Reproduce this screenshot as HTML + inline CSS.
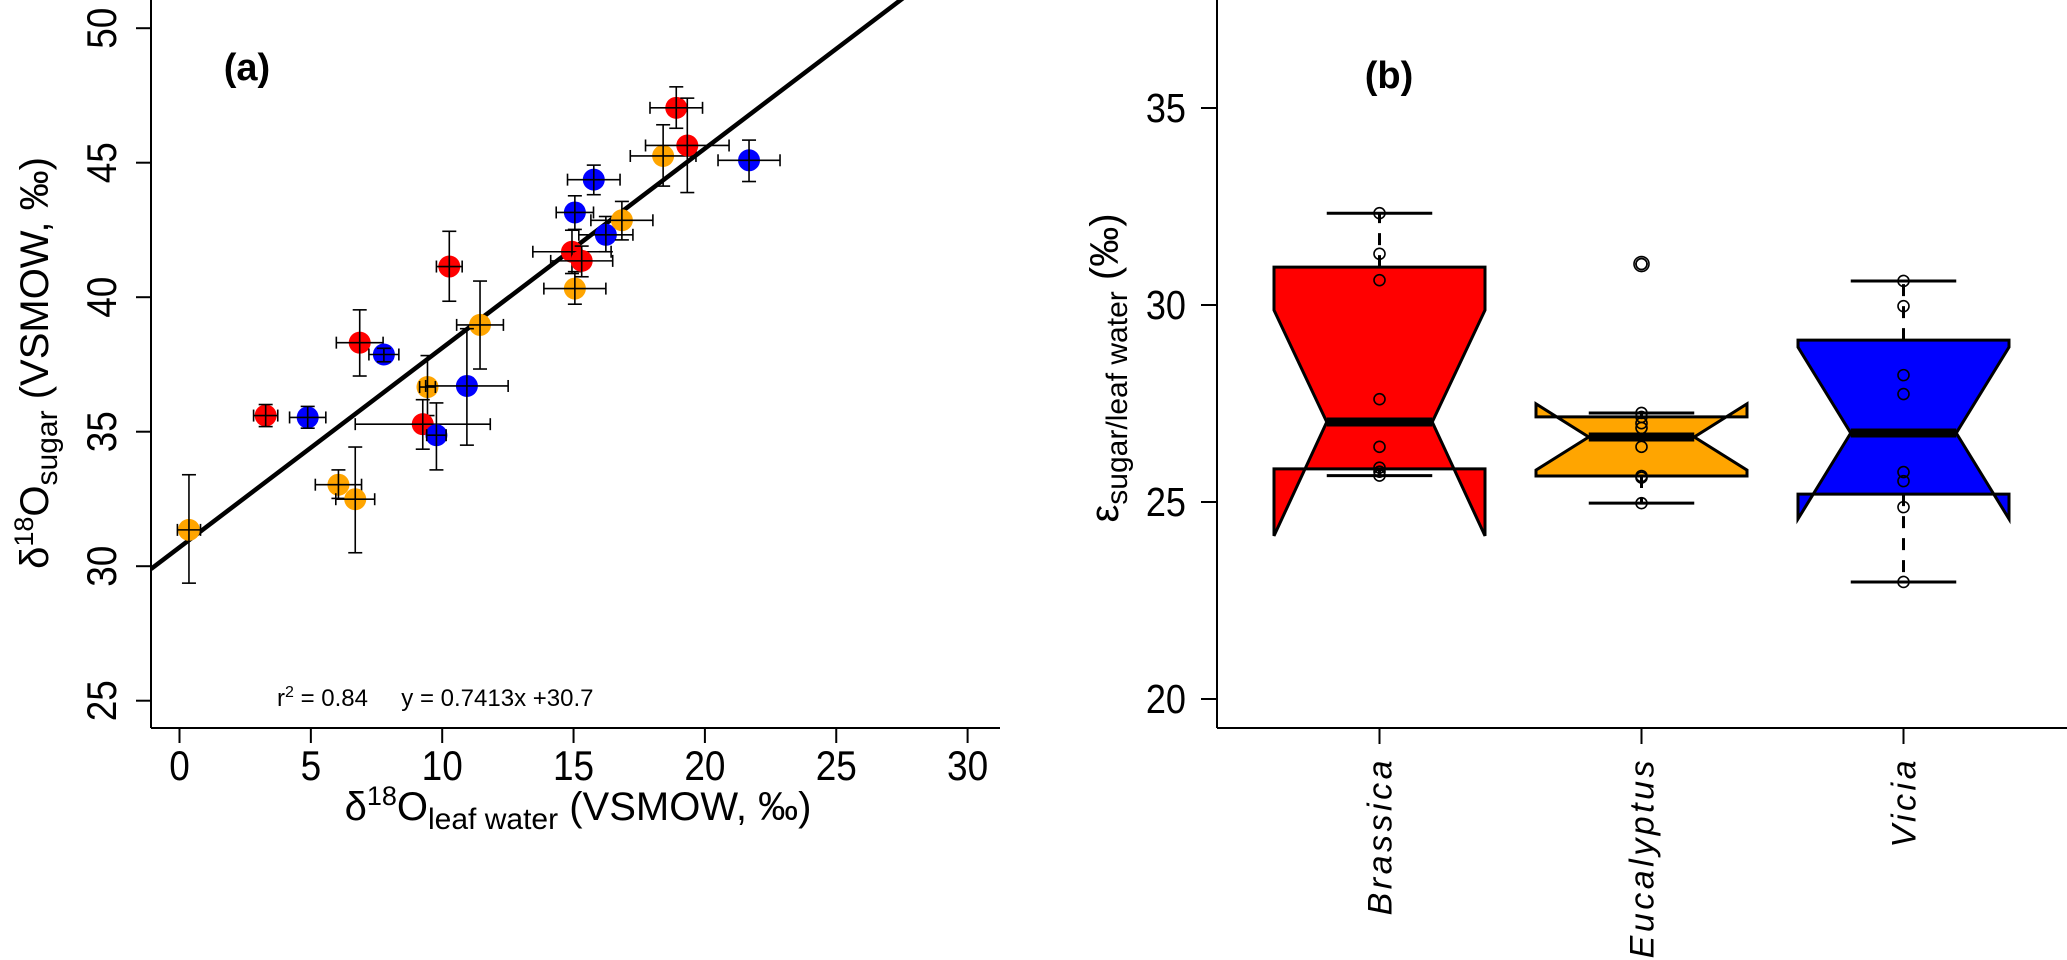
<!DOCTYPE html>
<html>
<head>
<meta charset="utf-8">
<style>
html,body{margin:0;padding:0;background:#fff;}
svg{display:block;font-family:"Liberation Sans",Arial,sans-serif;}
</style>
</head>
<body>
<svg id="fig" width="2067" height="960" viewBox="0 0 2067 960" xmlns="http://www.w3.org/2000/svg">
  <g id="panelA"></g>
  <g id="panelB"></g>
</svg>
<script>
// ---------- Panel (a) data ----------
const leafWater = [0.36,3.28,4.88,6.86,7.78,6.05,6.69,10.27,11.44,9.44,10.94,9.26,9.78,15.05,14.94,15.31,15.05,15.77,16.23,16.84,18.41,18.91,19.33,21.68];
const sugar = [31.35,35.6,35.53,38.31,37.87,33.03,32.49,41.14,38.97,36.66,36.7,35.28,34.87,40.32,41.69,41.35,43.15,44.37,42.32,42.86,45.25,47.04,45.64,45.09];
const leafWaterErr = [0.44,0.46,0.69,0.89,0.57,0.88,0.74,0.49,0.89,0.3,1.57,2.57,0.37,1.18,1.49,1.18,0.71,1.0,1.03,1.18,1.25,1.0,1.59,1.18];
const sugarLo = [29.37,35.19,35.13,37.07,37.6,32.52,30.5,39.85,37.33,35.6,34.5,34.35,33.58,39.74,40.88,40.76,42.52,43.81,41.69,42.13,44.13,46.28,43.89,44.3];
const sugarHi = [33.4,36.01,35.94,39.53,38.1,33.58,34.43,42.45,40.6,37.83,38.83,36.19,36.07,40.95,42.49,41.9,43.77,44.91,43.0,43.56,46.41,47.82,47.4,45.84];
const species = ["E","B","V","B","V","E","E","B","E","E","V","B","V","E","B","B","V","V","V","E","E","B","B","V"];
const xTicksA = [0,5,10,15,20,25,30];
const yTicksA = [25,30,35,40,45,50];
const fitSlope = [0.7413];
const fitIntercept = [30.7];

// ---------- Panel (b) data ----------
const groups = ["Brassica","Eucalyptus","Vicia"];
const whiskLo = [25.67,24.97,22.97];
const hingeLo = [25.84,25.66,25.2];
const medians = [27.03,26.65,26.75];
const hingeHi = [30.96,27.16,29.11];
const whiskHi = [32.33,27.26,30.61];
const notchLo = [24.14,25.81,24.57];
const notchHi = [29.87,27.49,28.93];
const groupPoints = [
  [32.33,31.3,30.63,27.61,26.4,25.87,25.77,25.67],
  [31.04,31.04,27.26,27.16,27.0,26.88,26.4,25.66,25.62,24.97],
  [30.61,29.97,28.22,27.74,25.76,25.53,24.87,22.97]
];
const yTicksB = [20,25,30,35];

const NS = "http://www.w3.org/2000/svg";
function mk(parent, tag, attrs){
  const e = document.createElementNS(NS, tag);
  for (const k in attrs) e.setAttribute(k, attrs[k]);
  parent.appendChild(e);
  return e;
}
const colors = {B:"#ff0000", E:"#ffa500", V:"#0000ff"};

// ---------- Panel (a) ----------
const A = document.getElementById("panelA");
const ax0 = 151, axBottom = 728, axRight = 1000;
const xA = v => 179.5 + v*26.27;
const yA = v => 566.2 - (v-30)*26.9;

let el;
el = mk(A,"line",{x1:ax0,y1:0,x2:ax0,y2:axBottom,stroke:"#000","stroke-width":2});


el = mk(A,"line",{x1:ax0,y1:axBottom,x2:axRight,y2:axBottom,stroke:"#000","stroke-width":2});



xTicksA.forEach(t=>{
  const x = xA(t);
  let tk = mk(A,"line",{x1:x,y1:axBottom,x2:x,y2:axBottom+15,stroke:"#000","stroke-width":2});
  
  
  let tl = mk(A,"text",{transform:`translate(${x},780) scale(0.88,1)`,"text-anchor":"middle","font-size":42});
  tl.textContent = t;
  
  
});
yTicksA.forEach(t=>{
  const y = yA(t);
  let tk = mk(A,"line",{x1:ax0-15,y1:y,x2:ax0,y2:y,stroke:"#000","stroke-width":2});
  
  
  let tl = mk(A,"text",{transform:`translate(116,${y}) rotate(-90) scale(0.88,1)`,"text-anchor":"middle","font-size":42});
  tl.textContent = t;
  
  
});

const defs = mk(document.getElementById("fig"),"defs",{});
const cp = mk(defs,"clipPath",{id:"clipA"});
mk(cp,"rect",{x:ax0,y:0,width:axRight-ax0,height:axBottom});
const xs0 = (ax0-179.5)/26.27, xs1 = 35;
el = mk(A,"line",{x1:xA(xs0),y1:yA(fitSlope[0]*xs0+fitIntercept[0]),x2:xA(xs1),y2:yA(fitSlope[0]*xs1+fitIntercept[0]),stroke:"#000","stroke-width":4.5,"clip-path":"url(#clipA)"});



leafWater.forEach((xv,i)=>{
  const g = mk(A,"g",{});
  
  
  const cx = xA(xv), cy = yA(sugar[i]);
  mk(g,"ellipse",{cx:cx,cy:cy,rx:11,ry:11,fill:colors[species[i]]});
  const xl = xA(xv-leafWaterErr[i]), xr = xA(xv+leafWaterErr[i]);
  const yt = yA(sugarHi[i]), yb = yA(sugarLo[i]);
  const s = {stroke:"#000","stroke-width":1.6};
  mk(g,"line",Object.assign({x1:xl,y1:cy,x2:xr,y2:cy},s));
  mk(g,"line",Object.assign({x1:xl,y1:cy-6,x2:xl,y2:cy+6},s));
  mk(g,"line",Object.assign({x1:xr,y1:cy-6,x2:xr,y2:cy+6},s));
  mk(g,"line",Object.assign({x1:cx,y1:yt,x2:cx,y2:yb},s));
  mk(g,"line",Object.assign({x1:cx-7,y1:yt,x2:cx+7,y2:yt},s));
  mk(g,"line",Object.assign({x1:cx-7,y1:yb,x2:cx+7,y2:yb},s));
});
</script>

<script>
(function(){
  const A = document.getElementById("panelA");
  A.insertAdjacentHTML("beforeend",
   '<text x="247" y="80" text-anchor="middle" font-size="38" font-weight="bold">(a)</text>'+
   '<text x="277" y="706" font-size="24">r<tspan dy="-9" font-size="16">2</tspan><tspan dy="9"> = 0.84 \u00a0\u00a0\u00a0 y = 0.7413x +30.7</tspan></text>'+
   '<text transform="translate(48,363) rotate(-90)" text-anchor="middle" font-size="40">\u03b4<tspan dy="-15" font-size="27">18</tspan><tspan dy="15">O</tspan><tspan dy="9" font-size="30">sugar</tspan><tspan dy="-9"> (VSMOW, \u2030)</tspan></text>'+
   '<text x="578" y="820" text-anchor="middle" font-size="40">\u03b4<tspan dy="-15" font-size="27">18</tspan><tspan dy="15">O</tspan><tspan dy="9" font-size="30">leaf water</tspan><tspan dy="-9"> (VSMOW, \u2030)</tspan></text>');
})();
</script>

<script>
(function(){
const B = document.getElementById("panelB");
const bx0 = 1217, bBottom = 728, bRight = 2067;
const yB = v => 305 - (v-30)*39.4;
const xB = i => 1379.5 + i*262;
const hw = 105.5;
let el;
el = mk(B,"line",{x1:bx0,y1:0,x2:bx0,y2:bBottom,stroke:"#000","stroke-width":2});


el = mk(B,"line",{x1:bx0,y1:bBottom,x2:bRight,y2:bBottom,stroke:"#000","stroke-width":2});



yTicksB.forEach(t=>{
  const y = yB(t);
  let tk = mk(B,"line",{x1:bx0-16,y1:y,x2:bx0,y2:y,stroke:"#000","stroke-width":2});
  
  
  let tl = mk(B,"text",{transform:`translate(1186,${y+14}) scale(0.88,1)`,"text-anchor":"end","font-size":41});
  tl.textContent = t;
  
  
});

const fills = ["#ff0000","#ffa500","#0000ff"];
groups.forEach((g,i)=>{
  const cx = xB(i), L = cx-hw, R = cx+hw, nh = hw/2;
  const grp = mk(B,"g",{});
  
  
  const pts = [[L,yB(hingeLo[i])],[L,yB(notchLo[i])],[cx-nh,yB(medians[i])],[L,yB(notchHi[i])],[L,yB(hingeHi[i])],
               [R,yB(hingeHi[i])],[R,yB(notchHi[i])],[cx+nh,yB(medians[i])],[R,yB(notchLo[i])],[R,yB(hingeLo[i])]];
  const ws = {stroke:"#000","stroke-width":3,"stroke-dasharray":"12,10"};
  mk(grp,"line",Object.assign({x1:cx,y1:yB(hingeHi[i]),x2:cx,y2:yB(whiskHi[i])},ws));
  mk(grp,"line",Object.assign({x1:cx,y1:yB(hingeLo[i]),x2:cx,y2:yB(whiskLo[i])},ws));
  mk(grp,"line",{x1:cx-nh,y1:yB(whiskHi[i]),x2:cx+nh,y2:yB(whiskHi[i]),stroke:"#000","stroke-width":3});
  mk(grp,"line",{x1:cx-nh,y1:yB(whiskLo[i]),x2:cx+nh,y2:yB(whiskLo[i]),stroke:"#000","stroke-width":3});
  mk(grp,"polygon",{points:pts.map(p=>p.join(",")).join(" "),fill:fills[i],stroke:"#000","stroke-width":3,"stroke-linejoin":"miter"});
  mk(grp,"line",{x1:cx-nh,y1:yB(medians[i]),x2:cx+nh,y2:yB(medians[i]),stroke:"#000","stroke-width":9});
  groupPoints[i].forEach(v=>{
    const c = mk(grp,"circle",{cx:cx,cy:yB(v),r:5.5,fill:"none",stroke:"#000","stroke-width":1.6});
    
    
  });
  let tk = mk(B,"line",{x1:cx,y1:bBottom,x2:cx,y2:bBottom+16,stroke:"#000","stroke-width":2});
  
  
  let tl = mk(B,"text",{transform:`translate(${cx+12},757) rotate(-90)`,"text-anchor":"end","font-size":34,"font-style":"italic","letter-spacing":"3.5"});
  tl.textContent = g;
  
  
});
el = mk(B,"circle",{cx:xB(1),cy:yB(groupPoints[1][0]),r:7.5,fill:"none",stroke:"#000","stroke-width":1.6});



B.insertAdjacentHTML("beforeend",
 '<text x="1389" y="88" text-anchor="middle" font-size="38" font-weight="bold">(b)</text>'+
 '<text transform="translate(1118,368) rotate(-90)" text-anchor="middle" font-size="40">\u03b5<tspan dy="9" font-size="30">sugar/leaf water</tspan><tspan dy="-9"> (\u2030)</tspan></text>');
})();
</script>
</body>
</html>
